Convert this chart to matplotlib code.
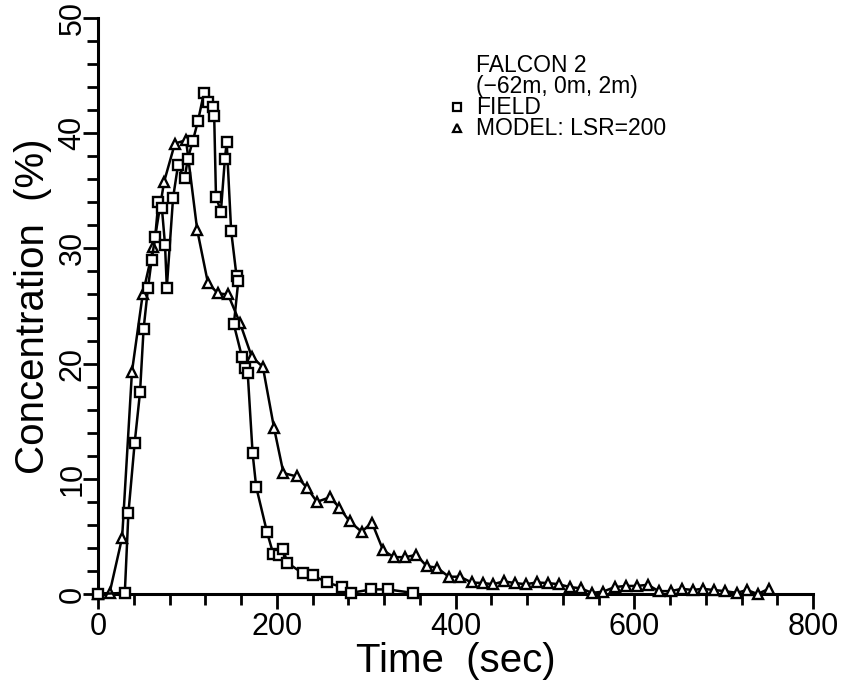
#!/usr/bin/env python3
"""FALCON 2 concentration time series: field data vs model (LSR=200)."""

import matplotlib

matplotlib.use("Agg")
import matplotlib.pyplot as plt
import matplotlib.transforms as mtransforms
from matplotlib.ticker import MultipleLocator

# field measurements (squares)
field_t = [0, 30, 34, 41, 47, 51, 56, 60, 64, 67.5,
           71.5, 75, 77, 84, 89.5, 97, 100.5, 106, 112, 118.5,
           123, 128.5, 130, 132, 137.5, 142, 144, 149, 155, 157,
           152, 161, 164.5, 167.5, 173, 177, 189, 196, 202, 207,
           212, 229, 240, 256, 273, 283, 306, 324, 352]
field_c = [0, 0.1, 7.0, 13.1, 17.5, 23.0, 26.6, 29.0, 31.0, 34.0,
           33.5, 30.3, 26.6, 34.4, 37.2, 36.1, 37.8, 39.3, 41.1, 43.5,
           42.7, 42.3, 41.5, 34.5, 33.2, 37.8, 39.2, 31.5, 27.6, 27.2,
           23.4, 20.6, 19.6, 19.2, 12.2, 9.3, 5.4, 3.5, 3.4, 3.9,
           2.7, 1.8, 1.65, 1.0, 0.6, 0.1, 0.4, 0.4, 0.1]

# model run LSR=200 (triangles)
model_t = [0, 13, 27, 38, 50, 62, 74, 86, 98.5, 111,
           123, 134, 145.5, 159, 172, 184.5, 197, 207.5, 222.5, 234,
           245, 259.5, 270, 281.5, 295, 306.5, 319, 331, 344, 356,
           368, 379, 392.5, 405, 418, 430.5, 442, 454, 466.5, 478.5,
           491, 503, 515.5, 528, 540, 552.5, 565, 578, 590.5, 603,
           615, 627.5, 641, 653, 665.5, 676.5, 689, 701, 715, 726,
           738, 750.5]
model_c = [0, 0.1, 4.9, 19.3, 26.0, 30.1, 35.8, 39.1, 39.4, 31.6,
           27.0, 26.1, 26.0, 23.5, 20.6, 19.7, 14.4, 10.5, 10.2, 9.2,
           8.0, 8.4, 7.5, 6.3, 5.4, 6.2, 3.8, 3.2, 3.2, 3.4,
           2.4, 2.3, 1.5, 1.5, 1.0, 0.95, 0.85, 1.1, 0.95, 0.85,
           1.0, 0.95, 0.85, 0.6, 0.5, 0.1, 0.2, 0.6, 0.7, 0.7,
           0.8, 0.25, 0.25, 0.45, 0.35, 0.45, 0.35, 0.25, 0.1, 0.35,
           0.0, 0.45]

legend_lines = ["FALCON 2", "(\u221262m, 0m, 2m)", "FIELD", "MODEL: LSR=200"]


def main() -> None:
    plt.rcParams["font.family"] = ["Liberation Sans", "DejaVu Sans"]
    W, H = 841, 689
    fig = plt.figure(figsize=(W / 100, H / 100), dpi=100)
    ax = fig.add_axes([98 / W, 1 - 594 / H, 715 / W, 576 / H])

    kw = dict(color="black", lw=1.8, mfc="white", mec="black", mew=1.7,
              clip_on=False)
    ax.plot(model_t, model_c, marker="^", ms=7.0, zorder=3, **kw)
    ax.plot(field_t, field_c, marker="s", ms=6.5, zorder=4, **kw)

    ax.set_xlim(0, 800)
    ax.set_ylim(0, 50)
    ax.xaxis.set_major_locator(MultipleLocator(200))
    ax.xaxis.set_minor_locator(MultipleLocator(40))
    ax.yaxis.set_major_locator(MultipleLocator(10))
    ax.yaxis.set_minor_locator(MultipleLocator(2))

    for side in ("top", "right"):
        ax.spines[side].set_visible(False)
    for side in ("left", "bottom"):
        ax.spines[side].set_linewidth(2.2)

    ax.tick_params(which="major", length=11, width=2.0, pad=2, labelsize=22)
    ax.tick_params(which="minor", length=8, width=2.0)
    ax.tick_params(axis="y", which="major", pad=0)
    # nudge rotated y labels a little towards the spine
    shift = mtransforms.ScaledTranslation(5 / 100, 0, fig.dpi_scale_trans)
    for lab in ax.get_yticklabels():
        lab.set_rotation(90)
        lab.set_va("center")
        lab.set_transform(lab.get_transform() + shift)

    ax.set_xlabel("Time  (sec)", fontsize=29, labelpad=0)
    ax.set_ylabel("Concentration  (%)", fontsize=29, labelpad=4)

    # hand-built legend block
    x_mark = (457 - 98) / 715
    x_txt = (476 - 98) / 715
    ys = [(594 - b) / 576 for b in (72, 93, 114, 135)]
    for txt, y in zip(legend_lines, ys):
        ax.text(x_txt, y, txt, transform=ax.transAxes, fontsize=16.5,
                va="baseline", ha="left")
    ax.plot([x_mark], [(594 - 107) / 576], marker="s", ms=5.5, mfc="white",
            mec="black", mew=1.6, transform=ax.transAxes, clip_on=False)
    ax.plot([x_mark], [(594 - 128) / 576], marker="^", ms=5.5, mfc="white",
            mec="black", mew=1.6, transform=ax.transAxes, clip_on=False)

    fig.savefig("out.png", dpi=100)


if __name__ == "__main__":
    main()
